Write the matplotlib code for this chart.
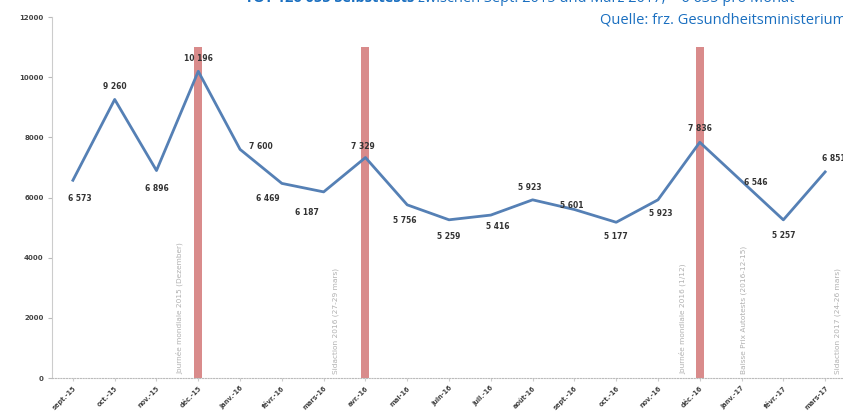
import matplotlib.pyplot as plt
import numpy as np

## Daten: Selbsttests pro Monat (frz. Gesundheitsministerium)
monate = ['sept.-15', 'oct.-15', 'nov.-15', 'déc.-15', 'janv.-16', 'févr.-16',
          'mars-16', 'avr.-16', 'mai-16', 'juin-16', 'juil.-16', 'août-16',
          'sept.-16', 'oct.-16', 'nov.-16', 'déc.-16', 'janv.-17', 'févr.-17',
          'mars-17']
tests = [6573, 9260, 6896, 10196, 7600, 6469, 6187, 7329, 5756, 5259, 5416,
         5923, 5601, 5177, 5923, 7836, 6546, 5257, 6851]

## Ereignisse (rote Balken) und Notizen (graue Texte)
balken_idx = [3, 7, 15]
balken_hoehe = 11000
notiz_pos = [2.55, 6.3, 14.6, 16.05, 18.3]
notiz_text = ['Journée mondiale 2015 (Dezember)',
              'Sidaction 2016 (27-29 mars)',
              'Journée mondiale 2016 (1/12)',
              'Baisse Prix Autotests (2016-12-15)',
              'Sidaction 2017 (24-26 mars)']

## Label-Versatz in Punkten (dx, dy)
label_off = [(5, -13), (0, 9), (0, -13), (0, 9), (15, 2), (-10, -11),
             (-12, -15), (-2, 8), (-2, -11), (0, -12), (5, -8), (-2, 9),
             (-2, 3), (0, -10), (2, -10), (0, 10), (10, -1), (0, -11),
             (6, 10)]

fig = plt.figure(figsize=(8.43, 4.12), dpi=100)
ax = fig.add_axes([0.0617, 0.0825, 0.9419, 0.8762])

x = np.arange(len(tests))
ax.bar(balken_idx, [balken_hoehe] * len(balken_idx), width=0.19,
       color='#d98b8b', zorder=1)
ax.plot(x, tests, color='#5580b5', lw=2, zorder=2)

for i, v in enumerate(tests):
    s = '{:,}'.format(v).replace(',', ' ')
    ax.annotate(s, (i, v), xytext=label_off[i], textcoords='offset points',
                ha='center', va='center', fontsize=5.5, fontweight='bold',
                color='#333333', zorder=3)

for p, t in zip(notiz_pos, notiz_text):
    ax.text(p, 120, t, rotation=90, ha='center', va='bottom', fontsize=5.3,
            color='#b0b0b0', zorder=1)

ax.set_xlim(-0.5, len(tests) - 0.5)
ax.set_ylim(0, 12000)
ax.set_yticks(np.arange(0, 12001, 2000))
ax.set_xticks(x)
ax.set_xticklabels(monate, rotation=45, ha='right', rotation_mode='anchor',
                   fontsize=4.8, fontweight='bold', color='#444444')
for lab in ax.get_yticklabels():
    lab.set_fontsize(5)
    lab.set_fontweight('bold')
    lab.set_color('#444444')
ax.tick_params(axis='y', length=3, color='#bbbbbb', pad=3)
ax.tick_params(axis='x', length=2, color='#cccccc', pad=3)

for s in ['top', 'right']:
    ax.spines[s].set_visible(False)
ax.spines['left'].set_color('#cccccc')
ax.spines['bottom'].set_color('#bbbbbb')
ax.spines['bottom'].set_linestyle((0, (1, 1.5)))

## Titel oben rechts (abgeschnitten wie im Original)
t1 = fig.text(0.291, 1.004, 'TOT 126 055 Selbsttests', fontsize=10.5,
              family='Open Sans', fontweight='bold', color='#1a6fc0',
              ha='left', va='center')
fig.canvas.draw()
bb = t1.get_window_extent().transformed(fig.transFigure.inverted())
fig.text(bb.x1 + 0.004, 1.004,
         'zwischen Sept. 2015 und März 2017, ~ 6 635 pro Monat',
         fontsize=10.5, family='Open Sans', color='#1a6fc0',
         ha='left', va='center')
fig.text(1.004, 0.952, 'Quelle: frz. Gesundheitsministerium', fontsize=10.5,
         family='Open Sans', color='#1a6fc0', ha='right', va='center')

fig.savefig('out.png', dpi=100)
